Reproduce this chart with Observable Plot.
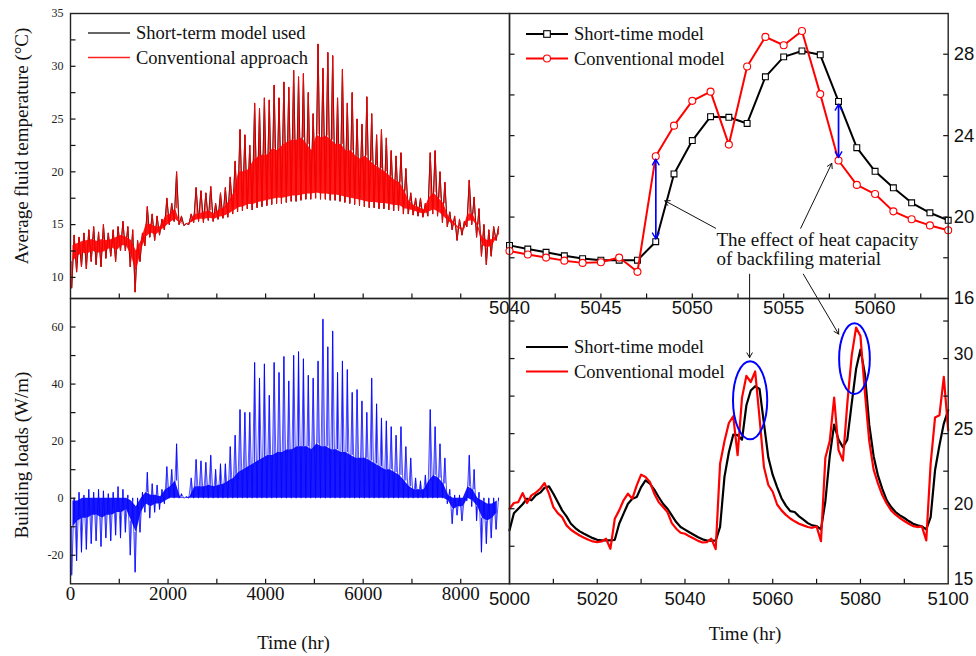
<!DOCTYPE html>
<html><head><meta charset="utf-8">
<script src="https://cdn.jsdelivr.net/npm/d3@7"></script>
<script src="https://cdn.jsdelivr.net/npm/@observablehq/plot@0.6"></script>
<style>
body{margin:0;background:#fff;}
#wrap{position:relative;width:976px;height:656px;overflow:hidden;background:#fff;}
#wrap svg{position:absolute;left:0;top:0;}
</style></head><body><div id="wrap"></div><script>
// ================= DATA =================
// annual hourly series, summarised per 100-hour bin
const binStart = [0,100,200,300,400,500,600,700,800,900,1000,1100,1200,1300,1400,1500,1600,1700,1800,1900,2000,2100,2200,2300,2400,2500,2600,2700,2800,2900,3000,3100,3200,3300,3400,3500,3600,3700,3800,3900,4000,4100,4200,4300,4400,4500,4600,4700,4800,4900,5000,5100,5200,5300,5400,5500,5600,5700,5800,5900,6000,6100,6200,6300,6400,6500,6600,6700,6800,6900,7000,7100,7200,7300,7400,7500,7600,7700,7800,7900,8000,8100,8200,8300,8400,8500,8600,8700];
const tempLow = [9.0,10.5,11.0,10.8,11.5,11.2,11.0,11.8,12.0,11.5, 12.5,12.5,11.0,8.6,11.5,13.0,13.8,13.5,14.0,14.5, 15.0,15.3,15.0,14.9,15.0,15.2,15.3,15.2,15.4,15.3, 15.5,15.6,15.7,16.0,16.2,16.3,16.5,16.4,16.6,16.7, 16.8,16.9,17.0,17.0,17.1,17.2,17.2,17.3,17.4,17.4, 17.5,17.4,17.4,17.3,17.3,17.2,17.1,17.0,16.9,16.8, 16.7,16.6,16.6,16.5,16.5,16.4,16.3,16.3,16.0,16.0, 15.9,15.8,15.7,15.8,16.0,15.8,15.2,14.8,14.5,13.5, 14.0,14.8,15.0,13.8,12.0,11.2,12.0,13.5];
const tempHigh = [14.0,13.8,14.2,14.5,14.8,14.3,15.0,14.2,14.5,14.8, 15.3,14.8,14.5,13.5,14.2,16.7,16.0,15.8,15.5,17.5, 17.0,20.0,15.8,15.1,16.0,18.5,18.2,18.0,18.6,17.0, 18.0,18.5,19.5,21.0,24.0,23.5,22.5,26.5,26.0,27.0, 26.8,28.2,27.0,28.5,28.0,29.6,29.0,29.3,27.5,25.5, 32.1,29.8,31.3,31.0,27.0,29.7,26.5,27.5,25.0,24.5, 27.1,25.5,23.5,24.0,23.2,22.0,21.5,21.8,20.3,18.0, 17.5,17.5,17.0,21.8,22.0,20.0,19.0,16.2,15.8,15.5, 15.3,19.2,17.6,16.5,15.0,14.5,14.8,14.8];
const tempCoreLow = [11.5,12.0,12.3,12.2,12.5,12.3,12.3,12.6,12.8,12.5, 13.0,13.0,12.0,10.5,12.5,13.8,14.2,14.0,14.4,14.8, 15.2,15.5,15.1,15.0,15.1,15.4,15.5,15.5,15.6,15.5, 15.7,15.8,16.0,16.3,16.6,16.7,16.9,16.9,17.1,17.2, 17.3,17.4,17.5,17.5,17.6,17.7,17.7,17.8,17.9,17.9, 18.0,17.9,17.9,17.8,17.8,17.7,17.6,17.5,17.4,17.3, 17.2,17.1,17.1,17.0,17.0,16.9,16.8,16.8,16.5,16.4, 16.3,16.1,16.0,16.2,16.4,16.2,15.8,15.3,15.0,14.6, 14.5,15.3,15.4,14.8,13.0,12.8,13.0,13.8];
const tempCoreHigh = [13.0,13.2,13.4,13.5,13.6,13.4,13.6,13.5,13.6,13.8, 14.0,13.8,13.5,12.5,13.5,15.0,15.0,14.8,14.8,15.8, 16.0,16.5,15.2,15.0,15.2,16.0,16.0,16.2,16.3,16.0, 16.4,16.6,17.2,18.0,20.0,20.0,20.2,21.0,21.4,21.6, 21.6,22.2,22.0,22.5,22.8,23.0,23.0,23.2,22.6,22.0, 23.5,23.2,23.4,23.0,22.6,22.6,22.0,22.0,21.5,21.2, 21.5,21.0,20.6,20.3,20.0,19.6,19.2,19.0,18.2,17.2, 16.8,16.6,16.4,17.5,18.0,17.5,17.0,15.8,15.3,14.8, 14.6,16.0,16.0,15.0,13.8,13.5,13.6,14.0];
const loadLow = [-27,-22,-19,-18,-16,-15,-17,-14,-15,-13, -14,-12,-20,-26,-12,-5,-7,-5,-4,-2, 0,0,0,0,0,0,0,0,0,0, 0,0,0,0,0,0,0,0,0,0, 0,0,0,0,0,0,0,0,0,0, 0,0,0,0,0,0,0,0,0,0, 0,0,0,0,0,0,0,0,0,0, 0,0,0,0,0,0,0,-2,-9,-6, -8,-1,-3,-8,-19,-16,-14,-11];
const loadHigh = [0,2,1,3,2,3,2.5,1.5,2,4, 3,1,0,0,2,9,5,4.5,3,11, 10,19,1.5,0.5,7,13.5,13,12.5,15,10, 12,12,18,22,31,30,30,47.5,42,47, 36,47.5,44,49.6,41,50,51.3,48.8,43,42, 48,62.7,53,58.5,44,48,45,37,38,34, 30,42,33,28,27,25,22,25,18,14, 7,6,8,31,25,19,14,3,1,1, 0,15,10,2,0,0,0,0];
const loadCoreLow = [-10,-8,-7,-7,-6,-6,-7,-6,-6,-5, -5,-4,-8,-12,-5,-2,-3,-2,-2,-1, 0,0,0,0,0,0,0,0,0,0, 0,0,0,0,0,0,0,0,0,0, 0,0,0,0,0,0,0,0,0,0, 0,0,0,0,0,0,0,0,0,0, 0,0,0,0,0,0,0,0,0,0, 0,0,0,0,0,0,0,-1,-4,-3, -3,0,-1,-3,-7,-8,-7,-5];
const loadCoreHigh = [-1,-1,0,0,0,0,0,0,0,0, 0,0,-1,-3,0,2,1,1,0.5,3, 4,6,0.5,0,0.5,4,4,4,4.5,4, 4.5,5,6,7,9,10,11,12,13,14, 15,15,16,16,17,17,18,18,18,17, 19,18,18,17,17,16,16,15,14,14, 14,13,12,11,10,10,9,8,6,4, 3,3,3,6,8,7,5,1,0,0, 0,4,3,0,-1,-2,-2,-1];

// hourly zoom, hours 5000-5100
const hours = [5000,5001,5002,5003,5004,5005,5006,5007,5008,5009,5010,5011,5012,5013,5014,5015,5016,5017,5018,5019,5020,5021,5022,5023,5024,5025,5026,5027,5028,5029,5030,5031,5032,5033,5034,5035,5036,5037,5038,5039,5040,5041,5042,5043,5044,5045,5046,5047,5048,5049,5050,5051,5052,5053,5054,5055,5056,5057,5058,5059,5060,5061,5062,5063,5064,5065,5066,5067,5068,5069,5070,5071,5072,5073,5074,5075,5076,5077,5078,5079,5080,5081,5082,5083,5084,5085,5086,5087,5088,5089,5090,5091,5092,5093,5094,5095,5096,5097,5098,5099,5100];
const shortTime = [18.56,19.7,20.0,20.3,20.67,20.56,20.9,21.07,21.4,21.49, 21.0,20.44,19.89,19.49,19.0,18.71,18.49,18.33,18.18,18.04, 17.93,17.89,17.89,17.89,17.93,19.0,19.67,20.33,20.67,20.78, 21.44,21.89,21.67,21.27,20.78,20.33,20.0,19.56,19.11,18.78, 18.61,18.43,18.27,18.1,17.96,17.88,17.88,17.88,18.79,22.12, 23.76,24.93,24.9,24.6,26.89,27.87,28.16,27.97,25.68,23.41, 22.25,21.44,20.7,20.21,19.84, 19.78,19.49,19.27,19.04,18.89,18.84,18.62,20.5,23.5,25.6, 24.6,24.1,24.6,27.0,29.3,30.6,29.0,25.6,23.5,22.2, 21.3,20.56,20.11,19.78,19.56,19.38,19.18,19.0,18.89,18.82, 18.62,19.44,22.56,24.22,25.67,26.56];
const conventional = [20.0,20.38,20.44,21.04,20.38,20.89,21.07,21.33,21.71,21.0, 20.11,19.71,19.44,18.89,18.6,18.4,18.22,18.07,17.93,17.82, 17.78,17.82,18.0,17.33,19.33,19.89,20.56,21.0,20.67,21.56, 22.27,22.11,21.78,21.0,20.44,20.11,19.78,19.04,18.67,18.4, 18.33,18.16,18.01,17.86,17.75,17.78,18.01,17.31,22.99,24.49, 25.71,26.16,23.56,27.4,28.85,28.44,29.14,26.04,22.78,21.58, 21.13,20.28,19.89,19.59,19.35, 19.16,19.0,18.89,18.78,18.73,18.82,17.84,23.4,24.5,27.4, 23.9,23.2,27.0,30.2,32.06,31.5,27.8,24.5,22.6,21.67, 20.89,20.33,19.89,19.6,19.38,19.18,19.0,18.84,18.78,18.82, 17.89,23.0,26.07,26.22,28.78,25.22];

// ticks and tick labels
const annualTicks = [1000,2000,3000,4000,5000,6000,7000,8000];
const annualLabels = [0,2000,4000,6000,8000];
const tempTicks = [10,12.5,15,17.5,20,22.5,25,27.5,30,32.5];
const tempLabels = [10,15,20,25,30,35];
const loadTicks = [-20,-10,0,10,20,30,40,50,60];
const loadLabels = [-20,0,20,40,60];
const zoomTicks = [5042.5,5045,5047.5,5050,5052.5,5055,5057.5,5060,5062.5];
const zoomLabels = [5040,5045,5050,5055,5060];
const zoomTempTicks = [18,20,22,24,26,28];
const zoomTempLabels = [16,20,24,28];
const dayTicks = [5010,5020,5030,5040,5050,5060,5070,5080,5090];
const dayLabels = [5000,5020,5040,5060,5080,5100];
const dayTempTicks = [17.5,20,22.5,25,27.5,30,32.5];
const dayTempLabels = [15,20,25,30];

// annotations (data coordinates)
const blueArrows = [{x:5048, a:22.99, b:18.79},{x:5058, a:25.68, b:22.78}];
const calloutTop = [{x1:5051.28,y1:19.45,x2:5048.5,y2:20.8},{x1:5055.93,y1:19.45,x2:5057.63,y2:22.64}];
const calloutBottom = [{x1:5054.73,y1:35.62,x2:5054.73,y2:30.07},{x1:5066.98,y1:35.62,x2:5075.03,y2:31.63}];
const calloutText = [{x:5051.32,y:18.86,text:"The effect of heat capacity"},{x:5051.32,y:17.93,text:"of backfiling material"}];
const ellipses = [{x:5054.96,y:27.19,rx:3.9,ry:2.6},{x:5078.75,y:29.96,rx:3.5,ry:2.36}];

// ================= LAYOUT =================
const W=976,H=656,X0=70,XM=509,X1=947.7,Y0=13,YM=298,Y1=583.3;
const SERIF='"Liberation Serif","Times New Roman",serif';
const SANS='"Liberation Sans",Arial,sans-serif';
const wrap=document.getElementById("wrap");
const sym=(dx,dy)=>({draw(c){c.moveTo(0,0);c.lineTo(dx,dy);}});
const tk=5;
function xTicks(vals,anchor){return Plot.dot(vals,{x:d=>d,frameAnchor:anchor,symbol:sym(0,anchor==="bottom"?-tk:tk),stroke:"#111",fill:"none",strokeWidth:1.2});}
function yTicks(vals,anchor){return Plot.dot(vals,{y:d=>d,frameAnchor:anchor,symbol:sym(anchor==="left"?tk:-tk,0),stroke:"#111",fill:"none",strokeWidth:1.2});}
function base(opts){
  const svg=Plot.plot(Object.assign({width:W,height:H,style:{background:"transparent",overflow:"visible"}},opts));
  svg.style.position="absolute";svg.style.left="0";svg.style.top="0";svg.style.maxWidth="none";
  wrap.appendChild(svg);return svg;
}
function annual(low,high,cl,ch){
  return binStart.map((t,i)=>({t,low:low[i],high:high[i],cl:cl[i],ch:ch[i]}));
}
function zig(rows){return rows.flatMap(r=>[{t:r.t+25,v:r.low},{t:r.t+75,v:r.high}]);}
function denseMarks(rows,color){
  return [
    Plot.areaY(rows,{x:d=>d.t+50,y1:"cl",y2:"ch",fill:color,fillOpacity:0.9}),
    Plot.ruleX(rows,{x:d=>d.t+75,y1:"ch",y2:"high",stroke:color,strokeWidth:0.9}),
    Plot.ruleX(rows,{x:d=>d.t+25,y1:"low",y2:"cl",stroke:color,strokeWidth:0.9}),
    Plot.line(zig(rows),{x:"t",y:"v",stroke:color,strokeWidth:0.9,strokeOpacity:0.75})
  ];
}
const tempRows=annual(tempLow,tempHigh,tempCoreLow,tempCoreHigh);
const loadRows=annual(loadLow,loadHigh,loadCoreLow,loadCoreHigh);
const hourly=hours.map((h,i)=>({h,s:shortTime[i],c:conventional[i]}));
const zoomRows=hourly.filter(d=>d.h>=5040&&d.h<=5064);

// ---- top-left ----
base({marginLeft:X0,marginRight:W-XM,marginTop:Y0,marginBottom:H-YM,
  x:{domain:[0,9000],axis:null},y:{domain:[8,35],axis:null},
  marks:[
    Plot.line(zig(tempRows),{x:"t",y:"v",stroke:"#000",strokeWidth:1}),
    ...denseMarks(tempRows,"#ff0000"),
    xTicks(annualTicks,"bottom"),yTicks(tempTicks,"left"),
    Plot.text(tempLabels,{y:d=>d,text:d=>String(d),frameAnchor:"left",dx:-7,textAnchor:"end",fontFamily:SERIF,fontSize:12,fill:"#222"}),
    Plot.frame({stroke:"#222",strokeWidth:1.4})
  ]});
// ---- bottom-left ----
base({marginLeft:X0,marginRight:W-XM,marginTop:YM,marginBottom:H-Y1,
  x:{domain:[0,9000],axis:null},y:{domain:[-30,70],axis:null},
  marks:[
    ...denseMarks(loadRows,"#0000ff"),
    xTicks(annualTicks,"bottom"),yTicks(loadTicks,"left"),
    Plot.text(loadLabels,{y:d=>d,text:d=>String(d),frameAnchor:"left",dx:-7,textAnchor:"end",fontFamily:SERIF,fontSize:12,fill:"#222"}),
    Plot.text(annualLabels,{x:d=>d,text:d=>String(d),frameAnchor:"bottom",dy:16,fontFamily:SERIF,fontSize:19,fill:"#111"}),
    Plot.frame({stroke:"#222",strokeWidth:1.4})
  ]});
// ---- top-right ----
base({marginLeft:XM,marginRight:W-X1,marginTop:Y0,marginBottom:H-YM,
  x:{domain:[5040,5064],axis:null},y:{domain:[16,30],axis:null},
  marks:[
    Plot.line(zoomRows,{x:"h",y:"s",stroke:"#000",strokeWidth:2}),
    Plot.dot(zoomRows,{x:"h",y:"s",symbol:"square",r:3.3,fill:"#fff",stroke:"#000",strokeWidth:1.1}),
    Plot.line(zoomRows,{x:"h",y:"c",stroke:"#ff0000",strokeWidth:2}),
    Plot.dot(zoomRows,{x:"h",y:"c",symbol:"circle",r:3.5,fill:"#fff",stroke:"#ff0000",strokeWidth:1.1}),
    Plot.arrow(blueArrows,{x:"x",y1:"a",y2:"b",stroke:"#0000ff",strokeWidth:1.4,headLength:7,insetStart:3,insetEnd:3}),
    Plot.arrow(blueArrows,{x:"x",y1:"b",y2:"a",stroke:"#0000ff",strokeWidth:1.4,headLength:7,insetStart:3,insetEnd:3}),
    Plot.arrow(calloutTop,{x1:"x1",y1:"y1",x2:"x2",y2:"y2",stroke:"#111",strokeWidth:1,headLength:8}),
    Plot.text(calloutText,{x:"x",y:"y",text:"text",textAnchor:"start",fontFamily:SERIF,fontSize:19,fill:"#111"}),
    xTicks(zoomTicks,"bottom"),yTicks(zoomTempTicks,"right"),yTicks(zoomTempTicks,"left"),
    Plot.text(zoomLabels,{x:d=>d,text:d=>String(d),frameAnchor:"bottom",dy:15,fontFamily:SANS,fontSize:18.5,fill:"#111"}),
    Plot.text(zoomTempLabels,{y:d=>d,text:d=>String(d),frameAnchor:"right",dx:5.5,textAnchor:"start",fontFamily:SANS,fontSize:18.5,fill:"#111"}),
    Plot.frame({stroke:"#222",strokeWidth:1.4})
  ]});
// ---- bottom-right ----
const ellipseMark=(index,scales)=>{
  const ns="http://www.w3.org/2000/svg";const g=document.createElementNS(ns,"g");
  for(const e of ellipses){const el=document.createElementNS(ns,"ellipse");
    const cx=scales.x(e.x),cy=scales.y(e.y);
    el.setAttribute("cx",cx);el.setAttribute("cy",cy);
    el.setAttribute("rx",Math.abs(scales.x(e.x+e.rx)-cx));el.setAttribute("ry",Math.abs(scales.y(e.y+e.ry)-cy));
    el.setAttribute("fill","none");el.setAttribute("stroke","#0000ff");el.setAttribute("stroke-width","2");
    g.appendChild(el);}
  return g;};
base({marginLeft:XM,marginRight:W-X1,marginTop:YM,marginBottom:H-Y1,
  x:{domain:[5000,5100],axis:null},y:{domain:[15,34],axis:null},
  marks:[
    Plot.line(hourly,{x:"h",y:"s",stroke:"#000",strokeWidth:2.2}),
    Plot.line(hourly,{x:"h",y:"c",stroke:"#ff0000",strokeWidth:2.2}),
    ellipseMark,
    Plot.arrow(calloutBottom,{x1:"x1",y1:"y1",x2:"x2",y2:"y2",stroke:"#111",strokeWidth:1,headLength:8}),
    xTicks(dayTicks,"bottom"),yTicks(dayTempTicks,"right"),yTicks(dayTempTicks,"left"),
    Plot.text(dayLabels,{x:d=>d,text:d=>String(d),frameAnchor:"bottom",lineAnchor:"top",dy:8.5,fontFamily:SANS,fontSize:18.5,fill:"#111"}),
    Plot.text(dayTempLabels,{y:d=>d,text:d=>String(d),frameAnchor:"right",dx:5.5,dy:-4,textAnchor:"start",fontFamily:SANS,fontSize:17.5,fill:"#111"}),
    Plot.frame({stroke:"#222",strokeWidth:1.4})
  ]});

// ---- legends and titles (overlay) ----
const ov=d3.select(wrap).append("svg").attr("width",W).attr("height",H).style("font-family",SERIF);
function legend(x,y,items){
  items.forEach((it,i)=>{
    const yy=y+i*24.5;
    ov.append("line").attr("x1",x).attr("x2",x+42).attr("y1",yy).attr("y2",yy).attr("stroke",it.color).attr("stroke-width",it.w);
    if(it.marker==="square")ov.append("rect").attr("x",x+21-3.3).attr("y",yy-3.3).attr("width",6.6).attr("height",6.6).attr("fill","#fff").attr("stroke",it.color).attr("stroke-width",1.1);
    if(it.marker==="circle")ov.append("circle").attr("cx",x+21).attr("cy",yy).attr("r",3.5).attr("fill","#fff").attr("stroke",it.color).attr("stroke-width",1.1);
    ov.append("text").attr("x",x+48).attr("y",yy).attr("dy","0.35em").attr("font-size",18.5).attr("fill","#111").text(it.label);
  });
}
legend(88,33,[{label:"Short-term model used",color:"#333",w:1.3},{label:"Conventional approach",color:"#ff2020",w:1.3}]);
legend(526,34,[{label:"Short-time model",color:"#000",w:2,marker:"square"},{label:"Conventional model",color:"#ff0000",w:2,marker:"circle"}]);
legend(526,347,[{label:"Short-time model",color:"#000",w:2.2},{label:"Conventional model",color:"#ff0000",w:2.2}]);
ov.append("text").attr("transform","translate(21,146) rotate(-90)").attr("text-anchor","middle").attr("dy","0.35em").attr("font-size",19).attr("fill","#111").text("Average fluid temperature (°C)");
ov.append("text").attr("transform","translate(21,455) rotate(-90)").attr("text-anchor","middle").attr("dy","0.35em").attr("font-size",19).attr("fill","#111").text("Building loads (W/m)");
ov.append("text").attr("x",293.5).attr("y",642).attr("text-anchor","middle").attr("dy","0.35em").attr("font-size",19).attr("fill","#111").text("Time (hr)");
ov.append("text").attr("x",745).attr("y",633).attr("text-anchor","middle").attr("dy","0.35em").attr("font-size",19).attr("fill","#111").text("Time (hr)");
</script></body></html>
